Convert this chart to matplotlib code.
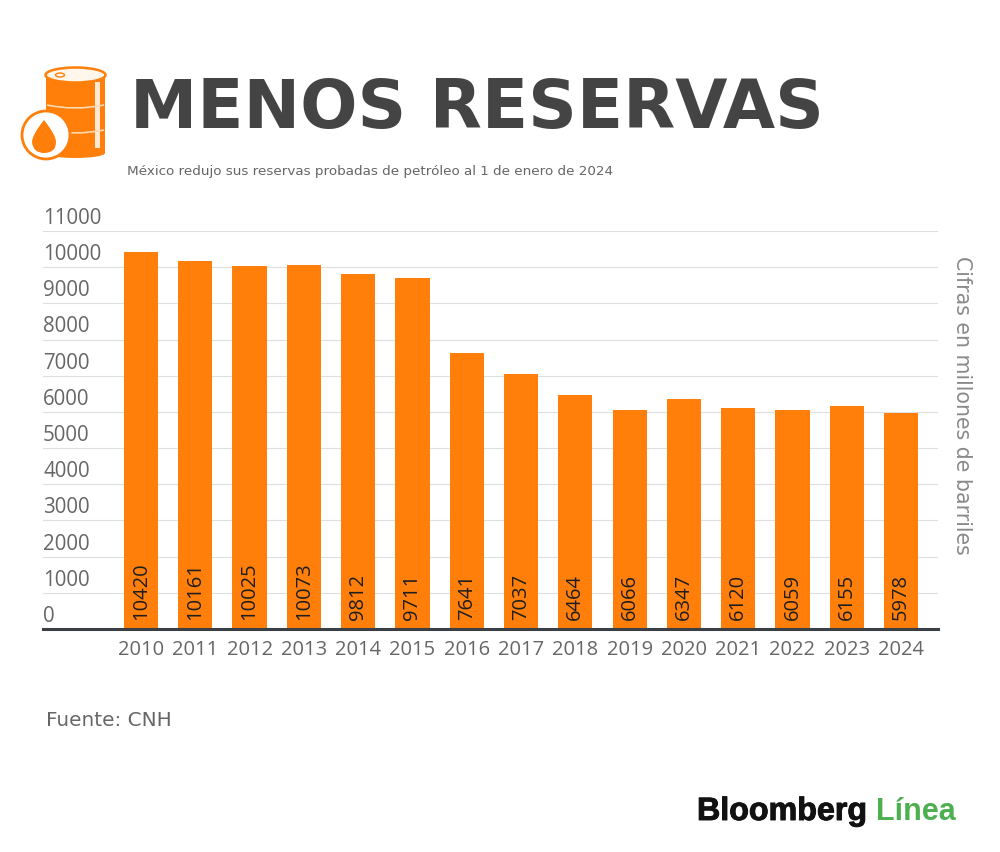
"""Menos reservas: reservas probadas de petroleo de Mexico, 2010-2024."""
import numpy as np
import matplotlib
matplotlib.use("Agg")
import matplotlib.pyplot as plt
import matplotlib.patheffects as pe
from matplotlib.patches import Circle, Ellipse, PathPatch, Rectangle
from matplotlib.path import Path

YEARS = [2010, 2011, 2012, 2013, 2014, 2015, 2016, 2017, 2018, 2019, 2020, 2021, 2022, 2023, 2024]
RESERVES = [10420, 10161, 10025, 10073, 9812, 9711, 7641, 7037, 6464, 6066, 6347, 6120, 6059, 6155, 5978]
Y_TICKS = list(range(0, 12000, 1000))

TITLE = "MENOS RESERVAS"
SUBTITLE = "México redujo sus reservas probadas de petróleo al 1 de enero de 2024"
SOURCE = "Fuente: CNH"
UNITS = "Cifras en millones de barriles"

ORANGE = "#FF7F0A"
DARK = "#444444"
GREY = "#666666"
W, H = 1000, 852

fig = plt.figure(figsize=(W / 100, H / 100), dpi=100, facecolor="white")

# chart area, in pixels of the reference
left, right, top, bottom = 43, 938, 231, 629
ax = fig.add_axes([left / W, 1 - bottom / H, (right - left) / W, (bottom - top) / H])
ax.set_xlim(2008.195, 2024.68)
ax.set_ylim(0, 11000)
ax.bar(YEARS, RESERVES, width=0.63, color=ORANGE, zorder=2)
ax.set_yticks(Y_TICKS)
ax.set_yticklabels([])
ax.set_xticks(YEARS)
ax.set_xticklabels(YEARS, family="Open Sans", fontsize=14.5, color=GREY)
ax.tick_params(axis="both", length=0)
ax.tick_params(axis="x", pad=8)
ax.grid(axis="y", color="#DEDEDE", linewidth=0.8, zorder=0)
ax.set_axisbelow(True)
for s in ["top", "left", "right"]:
    ax.spines[s].set_visible(False)
ax.spines["bottom"].set_color("#3A3F45")
ax.spines["bottom"].set_linewidth(2.2)

# y labels sit on top of their gridlines
for v in Y_TICKS:
    ax.annotate(str(v), (0, v), xycoords=("axes fraction", "data"), xytext=(0, 1.5),
                textcoords="offset points", ha="left", va="bottom",
                family="Open Sans", fontsize=14.8, color=GREY)

for yr, v in zip(YEARS, RESERVES):
    ax.annotate(str(v), (yr, 0), xytext=(0, 6.5), textcoords="offset points",
                ha="center", va="bottom", rotation=90, family="Open Sans",
                fontsize=14.5, color="#1E1E1E", zorder=3)

fig.text(130 / W, 1 - 128 / H, TITLE, family="DejaVu Sans", weight="bold",
         fontsize=48.6, color=DARK, ha="left", va="baseline")
fig.text(127 / W, 1 - 171 / H, SUBTITLE, family="DejaVu Sans", fontsize=9.7,
         color=GREY, ha="left", va="center")
fig.text(46 / W, 1 - 721 / H, SOURCE, family="DejaVu Sans", fontsize=14.4,
         color=GREY, ha="left", va="center")
fig.text(962 / W, 1 - 405 / H, UNITS, family="DejaVu Sans", fontsize=14.8,
         color="#8A8A8A", rotation=270, ha="center", va="center")

heavy = [pe.withStroke(linewidth=0.7, foreground="#111111")]
fig.text(697 / W, 1 - 820 / H, "Bloomberg", family="Liberation Sans", weight="bold",
         fontsize=23.2, color="#111111", ha="left", va="baseline", path_effects=heavy)
fig.text(876 / W, 1 - 820 / H, "Línea", family="Liberation Sans", weight="bold",
         fontsize=22, color="#4CB050", ha="left", va="baseline")

# barrel icon, overlay in pixel coordinates
ic = fig.add_axes([0, 0, 1, 1], zorder=5)
ic.set_xlim(0, W)
ic.set_ylim(H, 0)
ic.axis("off")
ic.patch.set_alpha(0)
ic.add_patch(Rectangle((46, 74), 59, 79, color=ORANGE, lw=0))
ic.add_patch(Ellipse((75.5, 153), 59, 10, color=ORANGE, lw=0))
ic.add_patch(Ellipse((75.5, 75), 60, 15, facecolor="#FFF6EC", edgecolor=ORANGE, lw=1.8))
ic.add_patch(Ellipse((60, 75), 9, 4, facecolor="#FFF6EC", edgecolor=ORANGE, lw=1))
ic.add_patch(Rectangle((95, 82), 5, 66, color="#FFE9D2", lw=0))
for yy in (105, 130):
    ic.add_patch(PathPatch(Path([(47, yy), (75, yy + 6), (104, yy)],
                                [Path.MOVETO, Path.CURVE3, Path.CURVE3]),
                           facecolor="none", edgecolor="#FFD9B0", lw=1.2))
ic.add_patch(Circle((46, 135), 24, facecolor="white", edgecolor=ORANGE, lw=2))
ic.add_patch(PathPatch(Path([(44, 120), (32, 135), (32, 142), (33, 153), (44, 153),
                             (56, 153), (56, 142), (56, 135), (44, 120)],
                            [Path.MOVETO, Path.CURVE3, Path.CURVE3, Path.CURVE3, Path.CURVE3,
                             Path.CURVE3, Path.CURVE3, Path.CURVE3, Path.CURVE3]),
                       facecolor=ORANGE, edgecolor="none"))

fig.savefig("out.png", dpi=100, facecolor="white")
